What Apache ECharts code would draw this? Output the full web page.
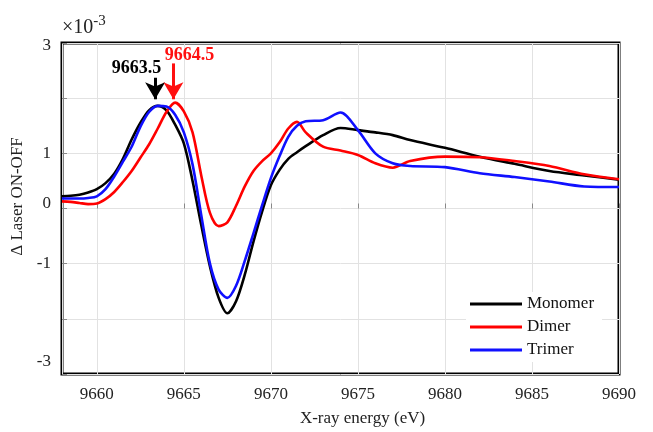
<!DOCTYPE html>
<html>
<head>
<meta charset="utf-8">
<script src="https://cdn.jsdelivr.net/npm/echarts@6/dist/echarts.min.js"></script>
<style>
  html, body { margin: 0; padding: 0; background: #fff; }
  #chart { width: 653px; height: 432px; }
</style>
</head>
<body>
<div id="chart"></div>
<script>
// X-ray energy (eV)
const energy = [9658, 9658.5, 9659, 9659.5,
  9660, 9660.5, 9661, 9661.5, 9662, 9662.5, 9663, 9663.5, 9664, 9664.5,
  9665, 9665.5, 9666, 9666.5, 9667, 9667.5, 9668, 9668.5, 9669, 9669.5,
  9670, 9670.5, 9671, 9671.5,
  9672, 9673, 9674, 9675, 9676, 9677, 9678,
  9680, 9682, 9684, 9686, 9688, 9690];
// Δ Laser ON-OFF (×10^-3)
const monomer = [0.22, 0.23, 0.25, 0.29,
  0.35, 0.46, 0.63, 0.9, 1.25, 1.55, 1.78, 1.86, 1.78, 1.52,
  1.18, 0.5, -0.3, -1.05, -1.62, -1.9, -1.68, -1.2, -0.6, -0.05,
  0.42, 0.7, 0.9, 1.02,
  1.13, 1.33, 1.46, 1.42, 1.38, 1.33, 1.24,
  1.1, 0.94, 0.81, 0.68, 0.6, 0.52];
const dimer = [0.13, 0.12, 0.1, 0.08,
  0.09, 0.17, 0.3, 0.48, 0.68, 0.92, 1.16, 1.45, 1.75, 1.92,
  1.76, 1.38, 0.6, -0.08, -0.32, -0.25, 0.05, 0.4, 0.68, 0.86,
  1.0, 1.2, 1.45, 1.57,
  1.38, 1.12, 1.05, 0.97, 0.82, 0.74, 0.86,
  0.94, 0.93, 0.86, 0.77, 0.62, 0.53];
const trimer = [0.18, 0.18, 0.18, 0.19,
  0.22, 0.35, 0.58, 0.85, 1.12, 1.48, 1.75, 1.86, 1.85, 1.7,
  1.38, 0.8, -0.12, -1.0, -1.47, -1.62, -1.4, -0.95, -0.45, 0.06,
  0.55, 0.95, 1.3, 1.5,
  1.58, 1.6, 1.74, 1.42, 1.0, 0.82, 0.77,
  0.75, 0.64, 0.57, 0.49, 0.4, 0.39];
// 峰位标注
const peakMono = { label: '9663.5', x: 9663.35, text: [9662.28, 2.54], arrow: [2.37, 1.98] };
const peakDimer = { label: '9664.5', x: 9664.4, text: [9665.33, 2.78], arrow: [2.63, 1.98] };

const serif = '"Liberation Serif", "Times New Roman", serif';

function pairs(ys) {
  return energy.map((x, i) => [x, ys[i]]);
}

function arrowLine(p, color) {
  return {
    silent: true,
    symbol: ['none', 'arrow'],
    symbolSize: [15, 17],
    label: { show: false },
    lineStyle: { color: color, width: 3, type: 'solid' },
    data: [[{ coord: [p.x, p.arrow[0]] }, { coord: [p.x, p.arrow[1]] }]]
  };
}

function peakText(p, color) {
  return {
    silent: true,
    symbol: 'circle',
    symbolSize: 0,
    label: {
      show: true, position: 'inside', formatter: p.label,
      color: color, fontFamily: serif, fontSize: 18, fontWeight: 'bold'
    },
    data: [{ coord: p.text }]
  };
}

const chart = echarts.init(document.getElementById('chart'));
chart.setOption({
  animation: false,
  backgroundColor: '#fff',
  title: {
    text: '{a|×10}{b|-3}',
    left: 62,
    top: 14,
    padding: 0,
    textStyle: {
      fontWeight: 'normal',
      rich: {
        a: { fontFamily: serif, fontSize: 20, fontWeight: 'normal', color: '#222' },
        b: { fontFamily: serif, fontSize: 15, fontWeight: 'normal', color: '#222', padding: [0, 0, 12, 0] }
      }
    }
  },
  grid: {
    left: 62, right: 34, top: 43, bottom: 52,
    show: true, borderColor: '#000', borderWidth: 3, backgroundColor: '#fff'
  },
  legend: {
    orient: 'vertical',
    left: 466,
    top: 292,
    padding: [3, 8, 3, 4],
    backgroundColor: '#fff',
    itemGap: 5,
    itemWidth: 52,
    itemHeight: 3,
    icon: 'rect',
    textStyle: { fontFamily: serif, fontSize: 17, color: '#111', lineHeight: 18 },
    data: ['Monomer', 'Dimer', 'Trimer']
  },
  xAxis: {
    type: 'value',
    min: 9658,
    max: 9690,
    name: 'X-ray energy (eV)',
    nameLocation: 'middle',
    nameGap: 36,
    nameTextStyle: { fontFamily: serif, fontSize: 17, color: '#222', padding: [0, 0, 0, 44] },
    axisLine: { show: false },
    axisTick: { show: true, inside: true, length: 5, lineStyle: { color: '#888' } },
    axisLabel: {
      fontFamily: serif, fontSize: 17, color: '#222', margin: 12, showMinLabel: false,
      formatter: function (v) { return String(v); }
    },
    splitLine: { show: true, lineStyle: { color: '#e2e2e2', width: 1 } }
  },
  yAxis: {
    type: 'value',
    min: -3,
    max: 3,
    interval: 1,
    name: 'Δ Laser ON-OFF',
    nameLocation: 'middle',
    nameRotate: 90,
    nameGap: 32,
    nameTextStyle: { fontFamily: serif, fontSize: 17, color: '#222', padding: [0, 0, 0, 24] },
    axisLine: { show: false },
    axisTick: { show: true, inside: true, length: 5, lineStyle: { color: '#888' } },
    axisLabel: {
      margin: 11,
      fontFamily: serif, fontSize: 17, color: '#222',
      formatter: function (v) {
        if (v === 2 || v === -2) return '';
        if (v === 3) return '{dn|3}';
        if (v === 0) return '{up|0}';
        if (v === -3) return '{up2|-3}';
        return String(v);
      },
      rich: {
        dn: { fontFamily: serif, fontSize: 17, color: '#222', padding: [6, 0, 0, 0] },
        up: { fontFamily: serif, fontSize: 17, color: '#222', padding: [0, 0, 10, 0] },
        up2: { fontFamily: serif, fontSize: 17, color: '#222', padding: [0, 0, 24, 0] }
      }
    },
    splitLine: { show: true, lineStyle: { color: '#e2e2e2', width: 1 } }
  },
  series: [
    {
      name: 'Monomer', type: 'line', smooth: 0.3, showSymbol: false,
      color: '#000', lineStyle: { width: 2.6, color: '#000' },
      data: pairs(monomer),
      markLine: arrowLine(peakMono, '#000'),
      markPoint: peakText(peakMono, '#000')
    },
    {
      name: 'Dimer', type: 'line', smooth: 0.3, showSymbol: false,
      color: '#ff0000', lineStyle: { width: 2.6, color: '#ff0000' },
      data: pairs(dimer),
      markLine: arrowLine(peakDimer, '#ff1010'),
      markPoint: peakText(peakDimer, '#ff1010')
    },
    {
      name: 'Trimer', type: 'line', smooth: 0.3, showSymbol: false,
      color: '#1010ff', lineStyle: { width: 2.6, color: '#1010ff' },
      data: pairs(trimer)
    }
  ]
});
</script>
</body>
</html>
